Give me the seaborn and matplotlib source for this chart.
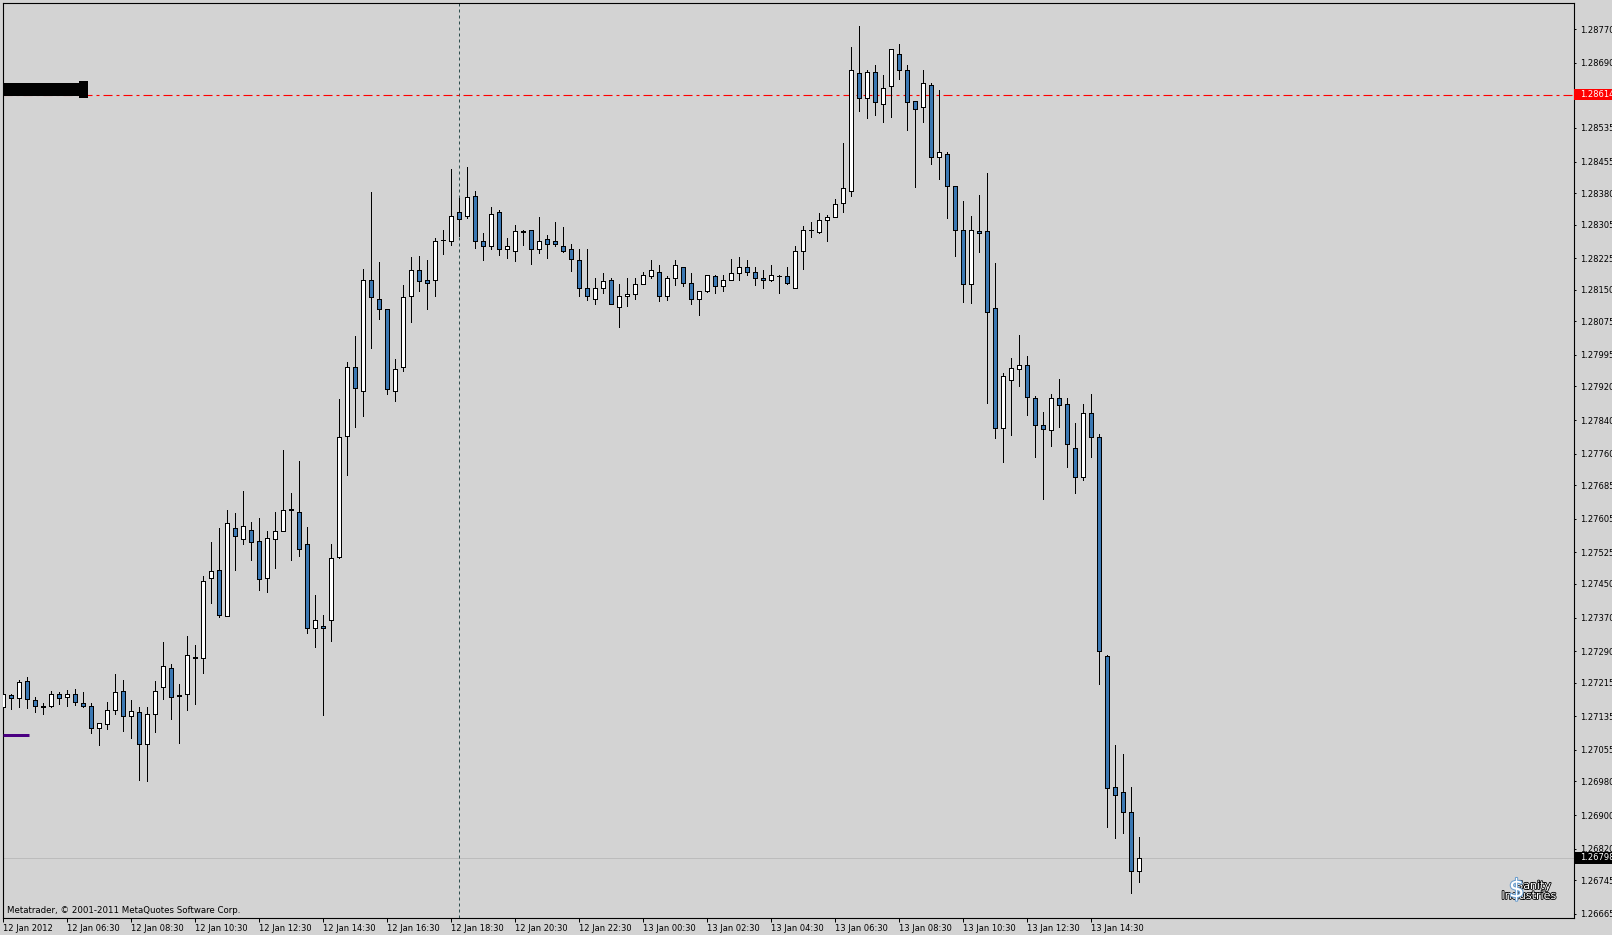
"""
EURUSD M15 - grafico de velas estilo MetaTrader (12-13 Jan 2012)
"""

import numpy as np
import pandas as pd
import matplotlib
matplotlib.use("Agg")
import matplotlib.pyplot as plt
import matplotlib.patheffects as pe
import matplotlib.transforms as mtransforms
from matplotlib.patches import Rectangle
import seaborn as sns

# --- datos OHLC (velas de 15 min, 12 Jan 04:30 -> 13 Jan 16:00) ---
opens = [
    1.27157, 1.27185, 1.27178, 1.27218, 1.27173, 1.27159, 1.27159, 1.27189, 1.27180, 1.27189,  # 0
    1.27166, 1.27159, 1.27106, 1.27116, 1.27149, 1.27194, 1.27135, 1.27144, 1.27070, 1.27140,  # 10
    1.27204, 1.27251, 1.27185, 1.27187, 1.27277, 1.27273, 1.27465, 1.27484, 1.27373, 1.27584,  # 20
    1.27558, 1.27579, 1.27551, 1.27463, 1.27556, 1.27577, 1.27628, 1.27622, 1.27544, 1.27346,  # 30
    1.27351, 1.27363, 1.27515, 1.27803, 1.27965, 1.27908, 1.28172, 1.28129, 1.28103, 1.27908,  # 40
    1.27967, 1.28134, 1.28198, 1.28172, 1.28172, 1.28269, 1.28265, 1.28335, 1.28326, 1.28374,  # 50
    1.28267, 1.28255, 1.28334, 1.28246, 1.28243, 1.28289, 1.28291, 1.28248, 1.28270, 1.28265,  # 60
    1.28255, 1.28246, 1.28220, 1.28155, 1.28129, 1.28153, 1.28172, 1.28110, 1.28134, 1.28139,  # 70
    1.28163, 1.28182, 1.28193, 1.28136, 1.28177, 1.28205, 1.28167, 1.28127, 1.28146, 1.28182,  # 80
    1.28158, 1.28174, 1.28189, 1.28203, 1.28193, 1.28179, 1.28174, 1.28183, 1.28182, 1.28155,  # 90
    1.28241, 1.28293, 1.28288, 1.28315, 1.28322, 1.28356, 1.28384, 1.28665, 1.28607, 1.28669,  # 100
    1.28593, 1.28634, 1.28712, 1.28672, 1.28598, 1.28586, 1.28638, 1.28467, 1.28472, 1.28396,  # 110
    1.28293, 1.28163, 1.28289, 1.28289, 1.28106, 1.27822, 1.27935, 1.27962, 1.27972, 1.27892,  # 120
    1.27829, 1.27816, 1.27892, 1.27877, 1.27774, 1.27705, 1.27857, 1.27800, 1.27279, 1.26967,  # 130
    1.26954, 1.26908, 1.26767,                                                                  # 140
]
highs = [
    1.27192, 1.27187, 1.27221, 1.27228, 1.27182, 1.27166, 1.27194, 1.27192, 1.27197, 1.27200,
    1.27193, 1.27166, 1.27120, 1.27169, 1.27235, 1.27221, 1.27174, 1.27158, 1.27158, 1.27219,
    1.27312, 1.27259, 1.27212, 1.27326, 1.27304, 1.27469, 1.27549, 1.27583, 1.27626, 1.27618,
    1.27671, 1.27597, 1.27607, 1.27577, 1.27621, 1.27768, 1.27666, 1.27742, 1.27585, 1.27423,
    1.27376, 1.27544, 1.27890, 1.27977, 1.28041, 1.28199, 1.28382, 1.28216, 1.28105, 1.27984,
    1.28162, 1.28228, 1.28230, 1.28220, 1.28274, 1.28292, 1.28437, 1.28368, 1.28441, 1.28384,
    1.28286, 1.28346, 1.28339, 1.28274, 1.28303, 1.28293, 1.28293, 1.28322, 1.28281, 1.28312,
    1.28300, 1.28258, 1.28248, 1.28246, 1.28179, 1.28189, 1.28179, 1.28163, 1.28179, 1.28179,
    1.28193, 1.28220, 1.28208, 1.28182, 1.28220, 1.28205, 1.28189, 1.28148, 1.28184, 1.28184,
    1.28186, 1.28224, 1.28227, 1.28220, 1.28203, 1.28196, 1.28208, 1.28186, 1.28205, 1.28253,
    1.28301, 1.28311, 1.28332, 1.28327, 1.28366, 1.28499, 1.28727, 1.28777, 1.28674, 1.28684,
    1.28660, 1.28724, 1.28734, 1.28684, 1.28598, 1.28674, 1.28641, 1.28626, 1.28477, 1.28396,
    1.28361, 1.28325, 1.28375, 1.28427, 1.28213, 1.27951, 1.27987, 1.28042, 1.27992, 1.27898,
    1.27858, 1.27902, 1.27937, 1.27893, 1.27832, 1.27878, 1.27902, 1.27806, 1.27280, 1.27066,
    1.27045, 1.26966, 1.26848,
]
lows = [
    1.27149, 1.27153, 1.27158, 1.27155, 1.27146, 1.27141, 1.27156, 1.27165, 1.27160, 1.27162,
    1.27158, 1.27096, 1.27067, 1.27105, 1.27141, 1.27101, 1.27084, 1.26984, 1.26982, 1.27098,
    1.27177, 1.27129, 1.27072, 1.27151, 1.27165, 1.27239, 1.27404, 1.27372, 1.27373, 1.27483,
    1.27545, 1.27507, 1.27436, 1.27431, 1.27488, 1.27577, 1.27507, 1.27517, 1.27333, 1.27300,
    1.27137, 1.27313, 1.27512, 1.27710, 1.27824, 1.27850, 1.28012, 1.28081, 1.27903, 1.27886,
    1.27957, 1.28074, 1.28147, 1.28105, 1.28134, 1.28236, 1.28257, 1.28278, 1.28321, 1.28250,
    1.28221, 1.28246, 1.28233, 1.28226, 1.28219, 1.28257, 1.28212, 1.28238, 1.28226, 1.28255,
    1.28240, 1.28195, 1.28136, 1.28126, 1.28117, 1.28143, 1.28117, 1.28062, 1.28112, 1.28128,
    1.28163, 1.28179, 1.28124, 1.28126, 1.28162, 1.28159, 1.28117, 1.28090, 1.28144, 1.28143,
    1.28146, 1.28174, 1.28174, 1.28184, 1.28162, 1.28155, 1.28170, 1.28143, 1.28163, 1.28153,
    1.28200, 1.28276, 1.28286, 1.28266, 1.28322, 1.28335, 1.28374, 1.28576, 1.28559, 1.28566,
    1.28550, 1.28561, 1.28652, 1.28531, 1.28395, 1.28550, 1.28450, 1.28414, 1.28321, 1.28231,
    1.28121, 1.28119, 1.28240, 1.27881, 1.27798, 1.27741, 1.27805, 1.27922, 1.27851, 1.27753,
    1.27652, 1.27777, 1.27824, 1.27729, 1.27667, 1.27697, 1.27753, 1.27213, 1.26871, 1.26845,
    1.26858, 1.26715, 1.26741,
]
closes = [
    1.27187, 1.27178, 1.27216, 1.27175, 1.27159, 1.27156, 1.27187, 1.27178, 1.27189, 1.27168,
    1.27159, 1.27106, 1.27118, 1.27151, 1.27192, 1.27135, 1.27147, 1.27070, 1.27140, 1.27194,
    1.27254, 1.27180, 1.27184, 1.27282, 1.27273, 1.27458, 1.27480, 1.27375, 1.27596, 1.27563,
    1.27587, 1.27549, 1.27461, 1.27560, 1.27577, 1.27627, 1.27627, 1.27534, 1.27346, 1.27365,
    1.27346, 1.27512, 1.27800, 1.27965, 1.27917, 1.28174, 1.28132, 1.28105, 1.27913, 1.27961,
    1.28132, 1.28196, 1.28170, 1.28167, 1.28267, 1.28268, 1.28326, 1.28319, 1.28371, 1.28265,
    1.28253, 1.28331, 1.28248, 1.28253, 1.28289, 1.28288, 1.28248, 1.28267, 1.28260, 1.28260,
    1.28243, 1.28222, 1.28155, 1.28136, 1.28153, 1.28170, 1.28117, 1.28134, 1.28141, 1.28163,
    1.28186, 1.28196, 1.28136, 1.28177, 1.28208, 1.28167, 1.28127, 1.28146, 1.28184, 1.28160,
    1.28172, 1.28189, 1.28205, 1.28193, 1.28177, 1.28174, 1.28184, 1.28182, 1.28167, 1.28241,
    1.28291, 1.28291, 1.28315, 1.28324, 1.28353, 1.28391, 1.28672, 1.28607, 1.28669, 1.28596,
    1.28629, 1.28722, 1.28674, 1.28596, 1.28581, 1.28641, 1.28467, 1.28477, 1.28398, 1.28293,
    1.28163, 1.28291, 1.28286, 1.28096, 1.27822, 1.27944, 1.27964, 1.27972, 1.27895, 1.27828,
    1.27819, 1.27892, 1.27876, 1.27784, 1.27704, 1.27856, 1.27799, 1.27290, 1.26964, 1.26947,
    1.26907, 1.26767, 1.26798,
]

x_tick_labels = [
    '12 Jan 2012', '12 Jan 06:30', '12 Jan 08:30', '12 Jan 10:30', '12 Jan 12:30',
    '12 Jan 14:30', '12 Jan 16:30', '12 Jan 18:30', '12 Jan 20:30', '12 Jan 22:30',
    '13 Jan 00:30', '13 Jan 02:30', '13 Jan 04:30', '13 Jan 06:30', '13 Jan 08:30',
    '13 Jan 10:30', '13 Jan 12:30', '13 Jan 14:30',
]
y_tick_values = [
    1.28770, 1.28690, 1.28535, 1.28455, 1.28380, 1.28305, 1.28225, 1.28150, 1.28075,
    1.27995, 1.27920, 1.27840, 1.27760, 1.27685, 1.27605, 1.27525, 1.27450, 1.27370,
    1.27290, 1.27215, 1.27135, 1.27055, 1.26980, 1.26900, 1.26820, 1.26745, 1.26665,
]

bid_price = 1.26798      # precio actual (etiqueta negra)
red_level = 1.28614      # linea roja punto-raya
black_level = 1.28627    # barra negra gruesa arriba a la izquierda
purple_level = 1.27090   # linea morada corta
vline_bar = 57           # linea vertical discontinua

BG = '#d3d3d3'
BEAR = '#3b78b3'
PX = 0.72  # un pixel en puntos (dpi 100)

sns.set_theme(style='white', rc={'axes.facecolor': BG, 'figure.facecolor': BG,
                                 'axes.edgecolor': 'black'})
plt.rcParams['font.family'] = ['DejaVu Sans']

df = pd.DataFrame({'open': opens, 'high': highs, 'low': lows, 'close': closes})
df['bar'] = np.arange(len(df))
df['bull'] = df['close'] >= df['open']
df['bottom'] = df[['open', 'close']].min(axis=1)
df['body'] = (df['close'] - df['open']).abs().clip(lower=0.000002)

fig = plt.figure(figsize=(16.12, 9.35), dpi=100, facecolor=BG)
ax = fig.add_axes([2.7 / 1612, 1 - 918 / 935, (1574.3 - 2.7) / 1612, (918 - 2.7) / 935])
ax.set_facecolor(BG)

# lineas de fondo
ax.axhline(bid_price, color='#bcbcbc', lw=PX, zorder=1)
ax.axvline(vline_bar, color='#2f4f4f', lw=PX, ls=(0, (3, 3)), zorder=1)
ax.axhline(red_level, color='red', lw=0.8, ls=(0, (8.1, 3.6, 2.7, 3.6)), zorder=1)

# velas
ax.vlines(df['bar'], df['low'], df['high'], color='black', lw=PX,
          antialiased=False, zorder=2)
ax.bar(df['bar'], df['body'], bottom=df['bottom'], width=0.5,
       color=np.where(df['bull'], 'white', BEAR), edgecolor='black',
       linewidth=PX, antialiased=False, zorder=3)

# objetos graficos (la barra negra tapa la linea roja hasta el cuadrado)
ax.add_patch(Rectangle((-0.5, black_level - 0.000160), 9.96, 0.000300,
                       fc='black', ec='none', zorder=4))
ax.add_patch(Rectangle((9.46, black_level - 0.000199), 1.09, 0.000398,
                       fc='black', ec='none', zorder=4))
ax.plot([-0.1, 3.2], [purple_level, purple_level], color='#4b0082', lw=3 * PX,
        solid_capstyle='butt', zorder=4)

ax.set_xlim(-0.08, 196.4)
ax.set_ylim(1.26655, 1.28833)

ax.yaxis.tick_right()
ax.set_yticks(y_tick_values)
ax.set_yticklabels([f'{v:.5f}' for v in y_tick_values])
ax.set_xticks(np.arange(0, 8 * len(x_tick_labels), 8))
ax.set_xticklabels(x_tick_labels)
for lab in ax.get_xticklabels():
    lab.set_horizontalalignment('left')
ax.tick_params(axis='y', direction='out', length=1.5, width=PX, pad=2.5,
               labelsize=6, colors='black', right=True, left=False)
ax.tick_params(axis='x', direction='out', length=3, width=PX, pad=1.5,
               labelsize=6, colors='black', bottom=True)
for s in ax.spines.values():
    s.set_color('black')
    s.set_linewidth(0.8)
ax.grid(False)

# etiquetas de precio en el eje derecho
trans = mtransforms.blended_transform_factory(ax.transAxes, ax.transData)
for level, fc in [(red_level, 'red'), (bid_price, 'black')]:
    ax.add_patch(Rectangle((1.0, level - 0.000135), 0.04, 0.00027, transform=trans,
                           fc=fc, ec='none', clip_on=False, zorder=5))
    ax.annotate(f'{level:.5f}', xy=(1.0, level), xycoords=trans, xytext=(4, 0),
                textcoords='offset points', ha='left', va='center', fontsize=6,
                color='white', annotation_clip=False, zorder=6)

ax.text(0.0025, 0.0085, 'Metatrader, \u00a9 2001-2011 MetaQuotes Software Corp.',
        transform=ax.transAxes, fontsize=6.2, ha='left', va='center', color='black')

# logo abajo a la derecha
stroke = [pe.withStroke(linewidth=1.2, foreground='black')]
fig.text(1533.8 / 1612, 1 - 886 / 935, 'Sanity', fontsize=8, color='white',
         ha='center', va='center', path_effects=stroke)
fig.text(1529 / 1612, 1 - 896 / 935, 'Industries', fontsize=8, color='white',
         ha='center', va='center', path_effects=stroke)
fig.text(1516.7 / 1612, 1 - 890 / 935, '$', fontsize=18, color='white',
         ha='center', va='center',
         path_effects=[pe.withStroke(linewidth=1.5, foreground='#6a9ecf')])

fig.savefig('out.png', dpi=100, facecolor=BG)
